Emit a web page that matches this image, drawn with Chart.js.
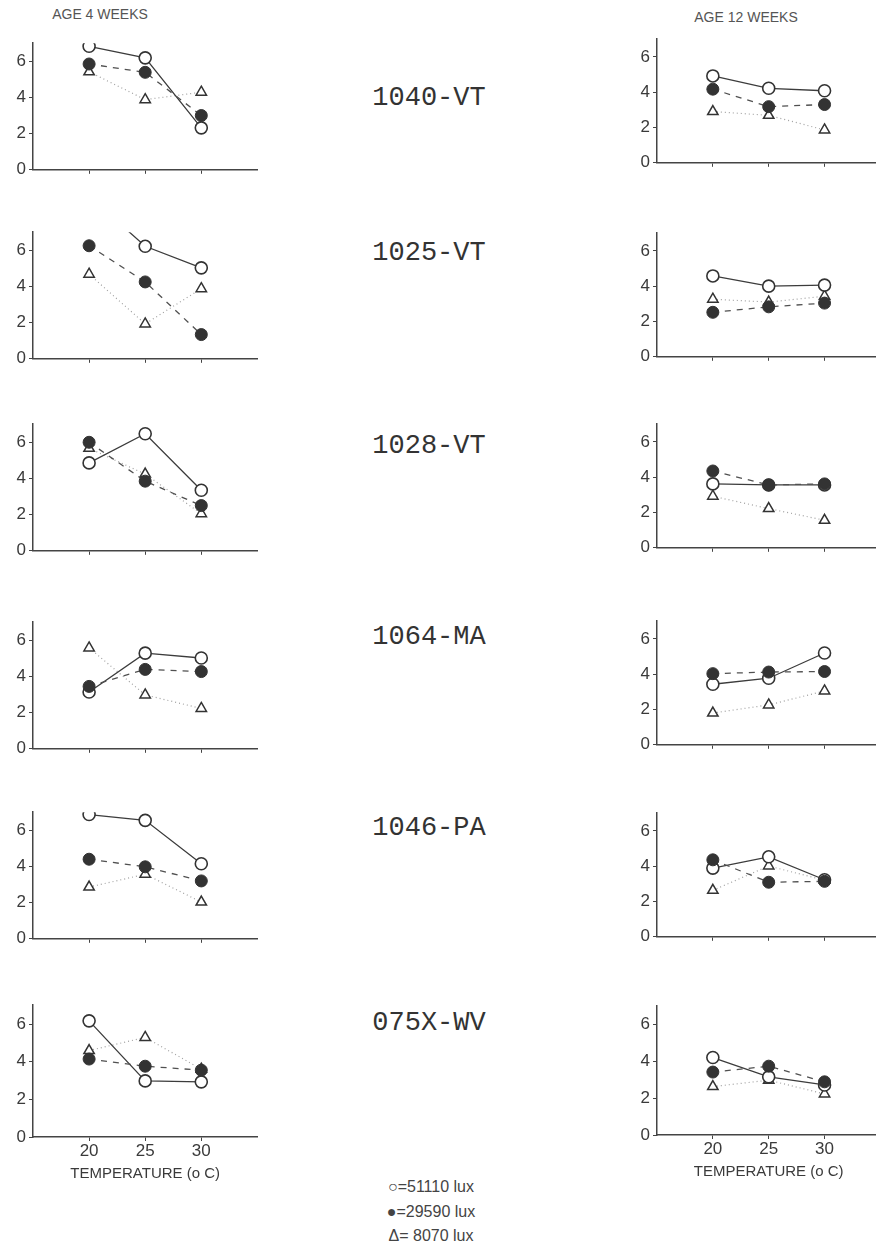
<!DOCTYPE html>
<html>
<head>
<meta charset="utf-8">
<script src="https://cdn.jsdelivr.net/npm/chart.js@4.4.1/dist/chart.umd.min.js"></script>
<style>
    body { margin: 0; background: #ffffff; width: 876px; height: 1246px; position: relative; overflow: hidden; }
    .panel { position: absolute; }
    .txt { position: absolute; color: #3a3a3a; white-space: nowrap; transform: translate(-50%, -50%); }
    .head { font-family: 'Liberation Sans', sans-serif; font-size: 14px; color: #555; }
    .strain { font-family: 'Liberation Mono', monospace; font-size: 27px; color: #333; }
    .legend { font-family: 'Liberation Sans', sans-serif; font-size: 16px; color: #444; }
</style>
</head>
<body>
<div class="txt head" style="left:100px; top:14px;">AGE 4 WEEKS</div>
<div class="txt head" style="left:746px; top:17px;">AGE 12 WEEKS</div>
<div id="strainLabels"></div>
<div class="txt legend" style="left:431px; top:1187px;">○=51110 lux</div>
<div class="txt legend" style="left:431px; top:1212px;">●=29590 lux</div>
<div class="txt legend" style="left:431px; top:1236px;">Δ= 8070 lux</div>
<div id="panels"></div>

<script>
// Temperatures (x) and tick labels
const temps = [20, 25, 30];
const xTicks = [20, 25, 30];
const yTicks = [0, 2, 4, 6];

// Strains, top to bottom
const strains = ['1040-VT', '1025-VT', '1028-VT', '1064-MA', '1046-PA', '075X-WV'];

// Age 4 weeks, one row per strain (values at 20, 25, 30 C)
const open4 = [
    [6.83, 6.19, 2.32],
    [9.0, 6.22, 5.03],
    [4.86, 6.47, 3.35],
    [3.14, 5.29, 5.02],
    [6.87, 6.55, 4.15],
    [6.17, 2.98, 2.93]
];
const filled4 = [
    [5.85, 5.39, 3.0],
    [6.25, 4.25, 1.34],
    [6.0, 3.85, 2.5],
    [3.45, 4.39, 4.27],
    [4.4, 3.98, 3.2],
    [4.14, 3.76, 3.55]
];
const tri4 = [
    [5.42, 3.88, 4.29],
    [4.68, 1.93, 3.88],
    [5.67, 4.24, 2.05],
    [5.58, 2.98, 2.23],
    [2.86, 3.57, 2.03],
    [4.59, 5.29, 3.6]
];

// Age 12 weeks
const open12 = [
    [4.92, 4.22, 4.08],
    [4.58, 4.0, 4.06],
    [3.62, 3.56, 3.56],
    [3.43, 3.77, 5.2],
    [3.89, 4.53, 3.23],
    [4.21, 3.16, 2.72]
];
const filled12 = [
    [4.17, 3.18, 3.3],
    [2.52, 2.83, 3.04],
    [4.35, 3.56, 3.62],
    [4.03, 4.12, 4.15],
    [4.36, 3.09, 3.14],
    [3.42, 3.74, 2.89]
];
const tri12 = [
    [2.9, 2.69, 1.86],
    [3.26, 3.1, 3.43],
    [2.92, 2.22, 1.56],
    [1.8, 2.26, 3.05],
    [2.63, 4.01, 3.2],
    [2.63, 2.98, 2.23]
];

// Layout: zero-line y position of each panel, strain label y
const leftZero = [175, 364, 556, 754, 944, 1137];
const rightZero = [168, 362, 553, 750, 942, 1135];
const strainY = [98, 253, 446, 637, 828, 1023];

const ink = '#333333';
const axisColor = '#444444';
const tickFont = { family: "'Liberation Sans', sans-serif", size: 17 };

function pts(vals) {
    return temps.map((t, i) => ({ x: t, y: vals[i] }));
}

function makePanel(left, width, zero, areaH, bottom, open, filled, tri) {
    const padTop = 8;
    const xH = bottom ? 48 : 8;
    const div = document.createElement('div');
    div.className = 'panel';
    div.style.left = left + 'px';
    div.style.top = (zero - areaH - padTop) + 'px';
    div.style.width = width + 'px';
    div.style.height = (padTop + areaH + xH) + 'px';
    const canvas = document.createElement('canvas');
    div.appendChild(canvas);
    document.getElementById('panels').appendChild(div);

    new Chart(canvas, {
        type: 'line',
        data: {
            datasets: [
                {
                    label: '29590 lux',
                    data: pts(filled),
                    order: 0,
                    borderColor: '#505050',
                    borderWidth: 1.3,
                    borderDash: [6, 6],
                    pointStyle: 'circle',
                    pointRadius: 6,
                    pointBackgroundColor: ink,
                    pointBorderColor: ink,
                    pointBorderWidth: 1
                },
                {
                    label: '51110 lux',
                    data: pts(open),
                    order: 1,
                    borderColor: '#3c3c3c',
                    borderWidth: 1.3,
                    pointStyle: 'circle',
                    pointRadius: 6,
                    pointBackgroundColor: '#ffffff',
                    pointBorderColor: ink,
                    pointBorderWidth: 1.6
                },
                {
                    label: '8070 lux',
                    data: pts(tri),
                    order: 2,
                    borderColor: '#a0a0a0',
                    borderWidth: 1.2,
                    borderDash: [1, 3],
                    pointStyle: 'triangle',
                    pointRadius: 6,
                    pointBackgroundColor: '#ffffff',
                    pointBorderColor: ink,
                    pointBorderWidth: 1.5
                }
            ]
        },
        options: {
            animation: false,
            responsive: true,
            maintainAspectRatio: false,
            layout: { padding: { top: padTop, left: 0, right: 0, bottom: 0 } },
            plugins: {
                legend: { display: false },
                tooltip: { enabled: false }
            },
            scales: {
                x: {
                    type: 'linear',
                    min: 15,
                    max: 35,
                    afterBuildTicks: s => { s.ticks = xTicks.map(v => ({ value: v })); },
                    afterFit: s => { s.height = xH; },
                    border: { display: true, color: axisColor, width: 1.5 },
                    grid: { drawOnChartArea: false, drawTicks: true, tickLength: 4, color: axisColor },
                    ticks: {
                        display: bottom,
                        color: '#3a3a3a',
                        font: tickFont,
                        padding: 0,
                        maxRotation: 0
                    },
                    title: {
                        display: bottom,
                        text: 'TEMPERATURE (o C)',
                        color: '#3a3a3a',
                        font: { family: "'Liberation Sans', sans-serif", size: 15 },
                        padding: { top: 0, bottom: 2 }
                    }
                },
                y: {
                    min: 0,
                    max: 7,
                    afterBuildTicks: s => { s.ticks = yTicks.map(v => ({ value: v })); },
                    afterFit: s => { s.width = 35; },
                    border: { display: true, color: axisColor, width: 1.5 },
                    grid: { drawOnChartArea: false, drawTicks: true, tickLength: 4, color: axisColor },
                    ticks: {
                        color: '#3a3a3a',
                        font: tickFont,
                        padding: 3
                    }
                }
            }
        }
    });
}

// Strain labels in the middle column
strains.forEach((name, i) => {
    const d = document.createElement('div');
    d.className = 'txt strain';
    d.style.left = '429px';
    d.style.top = strainY[i] + 'px';
    d.textContent = name;
    document.getElementById('strainLabels').appendChild(d);
});

// Build the 12 panels
strains.forEach((name, i) => {
    const bottom = i === strains.length - 1;
    makePanel(-2, 267, leftZero[i], 137, bottom, open4[i], filled4[i], tri4[i]);
    makePanel(622, 266, rightZero[i], 134, bottom, open12[i], filled12[i], tri12[i]);
});
</script>
</body>
</html>
